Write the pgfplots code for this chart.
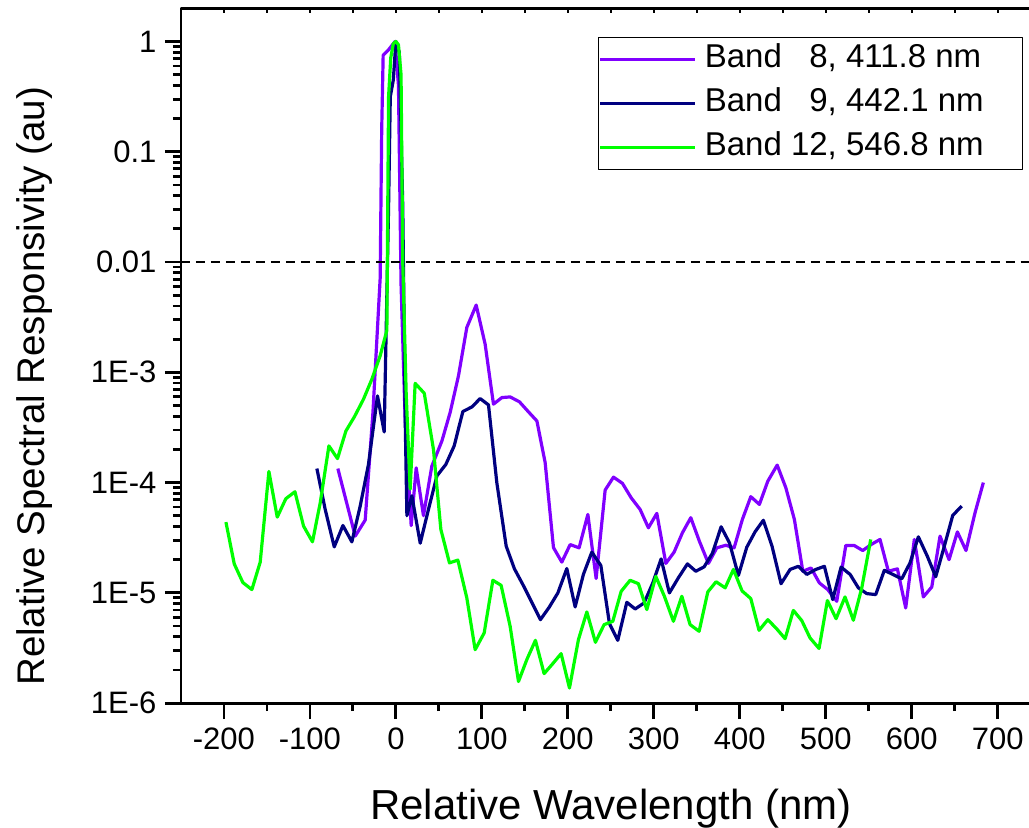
\documentclass[border=0pt]{standalone}
\usepackage{fontspec}
\setmainfont{Liberation Sans}
\usepackage{pgfplots}
\pgfplotsset{compat=1.18}
\definecolor{bpurple}{RGB}{128,0,255}
\definecolor{bnavy}{RGB}{0,0,128}
\definecolor{bgreen}{RGB}{0,255,0}
\begin{document}
\begin{tikzpicture}
\begin{axis}[
  at={(0pt,0pt)}, anchor=south west,
  scale only axis, width=860pt, height=695pt,
  xmin=-250, xmax=750, ymin=1e-6, ymax=2,
  ymode=log,
  axis line style={line width=2.8pt},
  every tick/.style={black, line width=2.8pt},
  tick align=outside,
  major tick length=16pt, minor tick length=8pt,
  xtick pos=lower, ytick pos=left,
  xtick={-200,-100,...,700},
  xticklabels={-200,-100,0,100,200,300,400,500,600,700},
  minor x tick num=1,
  ytick={1e-6,1e-5,1e-4,1e-3,1e-2,1e-1,1},
  yticklabels={1E-6,1E-5,1E-4,1E-3,0.01,0.1,1},
  tick label style={font=\fontsize{31}{37}\selectfont},
  xticklabel style={anchor=base, yshift=-30pt},
  yticklabel style={anchor=east, xshift=-5pt},
  xlabel={Relative Wavelength (nm)},
  ylabel={Relative Spectral Responsivity (au)},
  every axis x label/.style={at={(axis description cs:0.5,0)}, anchor=base, yshift=-116.7pt, font=\fontsize{42}{50}\selectfont},
  every axis y label/.style={at={(axis description cs:-0.1488,0.456)}, rotate=90, anchor=south, inner sep=0pt, font=\fontsize{38.5}{46}\selectfont},
  legend style={at={(rel axis cs:0.4852,0.959)}, anchor=north west, draw=black, line width=1.2pt,
    font=\fontsize{33}{40}\selectfont, inner xsep=0pt, inner ysep=6pt, row sep=12pt, column sep=3pt,
    cells={anchor=west}, nodes={inner xsep=5pt, inner ysep=0pt, text height=24pt, text depth=8pt}},
  legend image code/.code={\draw[#1, line width=3.2pt] (0pt,0pt) -- (95pt,0pt);},
  line join=round,
]
\addplot[bpurple, line width=3.2pt] coordinates {
(-67.5,1.34e-4) (-47.3,3.27e-5) (-35.7,4.57e-5) (-26.7,4.32e-4) (-18.3,7.08e-3) (-16.5,0.158)
(-14.8,0.75) (-8.6,0.84) (-1,1) (3,0.4) (6,6.3e-3) (10.8,3.72e-4) (17.8,4.07e-5) (23.6,1.36e-4)
(32.1,5.01e-5) (41.8,1.41e-4) (53.5,2.38e-4) (63.1,4.32e-4) (72.8,9.29e-4) (82.5,2.55e-3)
(93.4,4.07e-3) (103.8,1.80e-3) (113.5,5.14e-4) (123.3,5.90e-4) (132.9,5.98e-4) (143.7,5.40e-4)
(154.2,4.38e-4) (164,3.62e-4) (173.6,1.52e-4) (183.3,2.57e-5) (193,1.90e-5) (202.7,2.74e-5)
(213.1,2.56e-5) (223.3,5.14e-5) (232.9,1.35e-5) (243.4,8.55e-5) (253.1,1.12e-4) (263.5,9.84e-5)
(273.6,7.29e-5) (284.1,5.70e-5) (293.7,3.89e-5) (303.5,5.25e-5) (314,1.85e-5) (323.6,2.34e-5)
(333.3,3.51e-5) (343,4.80e-5) (353,2.94e-5) (363.5,1.85e-5) (373.3,2.56e-5) (383.7,2.70e-5)
(393.4,2.56e-5) (403,4.63e-5) (412.8,7.45e-5) (422.8,6.34e-5) (432.6,1.03e-4) (443.5,1.44e-4)
(453.5,9.0e-5) (463.5,4.63e-5) (473.3,1.57e-5) (482.9,1.68e-5) (492.6,1.23e-5) (502.3,1.07e-5)
(512.8,8.38e-6) (523.3,2.69e-5) (533,2.69e-5) (543,2.42e-5) (552.7,2.74e-5) (563.1,3.05e-5)
(572.8,1.57e-5) (583.3,1.65e-5) (593,7.29e-6) (603,3.05e-5) (613.5,9.18e-6) (623.3,1.13e-5)
(632.9,3.27e-5) (643.4,2.00e-5) (653.1,3.57e-5) (663.1,2.42e-5) (673.6,5.32e-5) (683.3,1.0e-4)
};
\addlegendentry{Band \phantom{1}8, 411.8 nm\rule{34pt}{0pt}}
\addplot[bnavy, line width=3.2pt] coordinates {
(-91.9,1.34e-4) (-82.2,5.70e-5) (-71.7,2.61e-5) (-61.6,4.08e-5) (-51.2,2.90e-5) (-41.5,6.12e-5)
(-31.9,1.46e-4) (-21.4,6.11e-4) (-13.6,2.88e-4) (-8.5,0.0316) (-6.5,0.316) (-3,0.447) (0,1)
(4,0.794) (8,0.0316) (11,3.16e-4) (12.8,5.01e-5) (18.6,7.59e-5) (28.3,2.82e-5) (37.9,5.71e-5)
(47.7,1.15e-4) (58.1,1.46e-4) (67.8,2.15e-4) (77.9,4.41e-4) (88.4,4.85e-4) (98,5.78e-4)
(107.7,5.06e-4) (117.4,9.98e-5) (128.3,2.65e-5) (137.9,1.65e-5) (148.4,1.16e-5) (158.1,8.20e-6)
(168.1,5.71e-6) (178.3,7.40e-6) (188.4,9.98e-6) (198.8,1.66e-5) (208.5,7.45e-6) (218.1,1.47e-5)
(227.9,2.34e-5) (238.4,1.77e-5) (248.4,5.26e-6) (258.1,3.71e-6) (268.6,8.20e-6) (278.3,7.14e-6)
(288.7,8.09e-6) (298.8,1.23e-5) (308.5,2.03e-5) (318.1,9.98e-6) (328.6,1.37e-5) (339.1,1.83e-5)
(348.8,1.57e-5) (358.5,1.72e-5) (368.1,2.28e-5) (378.3,3.97e-5) (388,2.84e-5) (398.4,1.44e-5)
(408.1,2.59e-5) (417.8,3.58e-5) (427.4,4.55e-5) (437.5,2.65e-5) (448,1.21e-5) (458.5,1.63e-5)
(468.1,1.74e-5) (477.9,1.47e-5) (488.4,1.63e-5) (498.4,1.74e-5) (508.1,8.69e-6) (517.8,1.71e-5)
(528.3,1.47e-5) (537.9,1.11e-5) (547.7,9.84e-6) (558.1,9.64e-6) (568.1,1.60e-5) (577.9,1.47e-5)
(588.4,1.34e-5) (598,1.87e-5) (607.7,3.22e-5) (618.1,2.15e-5) (627.9,1.40e-5) (637.9,2.65e-5)
(647.7,5.04e-5) (658.1,6.12e-5)
};
\addlegendentry{Band \phantom{1}9, 442.1 nm\rule{34pt}{0pt}}
\addplot[bgreen, line width=3.2pt] coordinates {
(-197.7,4.38e-5) (-188,1.83e-5) (-178,1.24e-5) (-167.5,1.07e-5) (-157.8,1.90e-5) (-147.7,1.26e-4)
(-138,4.86e-5) (-128,7.14e-5) (-117.4,8.26e-5) (-107.4,4.03e-5) (-97,2.90e-5) (-88,6.56e-5)
(-77.9,2.15e-4) (-67.9,1.65e-4) (-58.1,2.94e-4) (-48.1,3.97e-4) (-37.7,5.70e-4) (-27.9,8.67e-4)
(-18.3,1.41e-3) (-10.5,2.40e-3) (-8.5,0.316) (-6,0.708) (-3,0.955) (0,1) (3,0.933) (6,0.5)
(8,0.01) (12,6.3e-4) (16.6,8.71e-5) (22.4,7.94e-4) (33,6.46e-4) (43.7,2.00e-4) (52.3,3.76e-5)
(62.3,1.87e-5) (72.1,1.98e-5) (82.5,9.0e-6) (92.2,3.05e-6) (102.7,4.33e-6) (112.8,1.30e-5)
(122.4,1.17e-5) (132.9,4.97e-6) (142.6,1.57e-6) (152.3,2.48e-6) (162.3,3.71e-6) (172.4,1.85e-6)
(182.5,2.28e-6) (192.2,2.81e-6) (201.9,1.37e-6) (212.3,3.76e-6) (222.1,6.71e-6) (232.1,3.56e-6)
(242.2,5.15e-6) (252.3,5.52e-6) (262,1.03e-5) (272.4,1.30e-5) (282.1,1.21e-5) (291.9,7.05e-6)
(302.3,1.41e-5) (312.3,9.31e-6) (322.8,5.52e-6) (332.6,9.31e-6) (342.2,5.15e-6) (352.7,4.48e-6)
(362.8,1.02e-5) (372.4,1.26e-5) (383,1.11e-5) (392.6,1.63e-5) (402.7,1.04e-5) (412.8,8.87e-6)
(422.4,4.57e-6) (432.6,5.71e-6) (443,4.71e-6) (452.7,3.84e-6) (462.3,6.93e-6) (472.1,5.60e-6)
(481.7,3.90e-6) (492.2,3.13e-6) (501.9,8.51e-6) (512,5.83e-6) (522.4,9.18e-6) (532.1,5.64e-6)
(541.9,1.11e-5) (552.3,3.05e-5)
};
\addlegendentry{Band 12, 546.8 nm\rule{34pt}{0pt}}
\addplot[black, line width=1.8pt, dash pattern=on 9pt off 6pt, forget plot] coordinates {(-250,0.01) (750,0.01)};
\end{axis}
\begin{axis}[
  at={(0pt,0pt)}, anchor=south west,
  scale only axis, width=860pt, height=695pt,
  xmin=-250, xmax=750, ymin=1e-6, ymax=2, ymode=log,
  axis x line*=top, hide y axis,
  axis line style={line width=2.8pt},
  every tick/.style={black, line width=2.2pt},
  tick align=inside, major tick length=5pt, minor tick length=5pt,
  xtick={-200,-100,...,700}, minor x tick num=1, xticklabels={},
]
\addplot[draw=none, forget plot] coordinates {(0,1e-3)};
\end{axis}
\pgfresetboundingbox
\path (-181pt,-124pt) rectangle (848.3pt,703.3pt);
\end{tikzpicture}
\end{document}
